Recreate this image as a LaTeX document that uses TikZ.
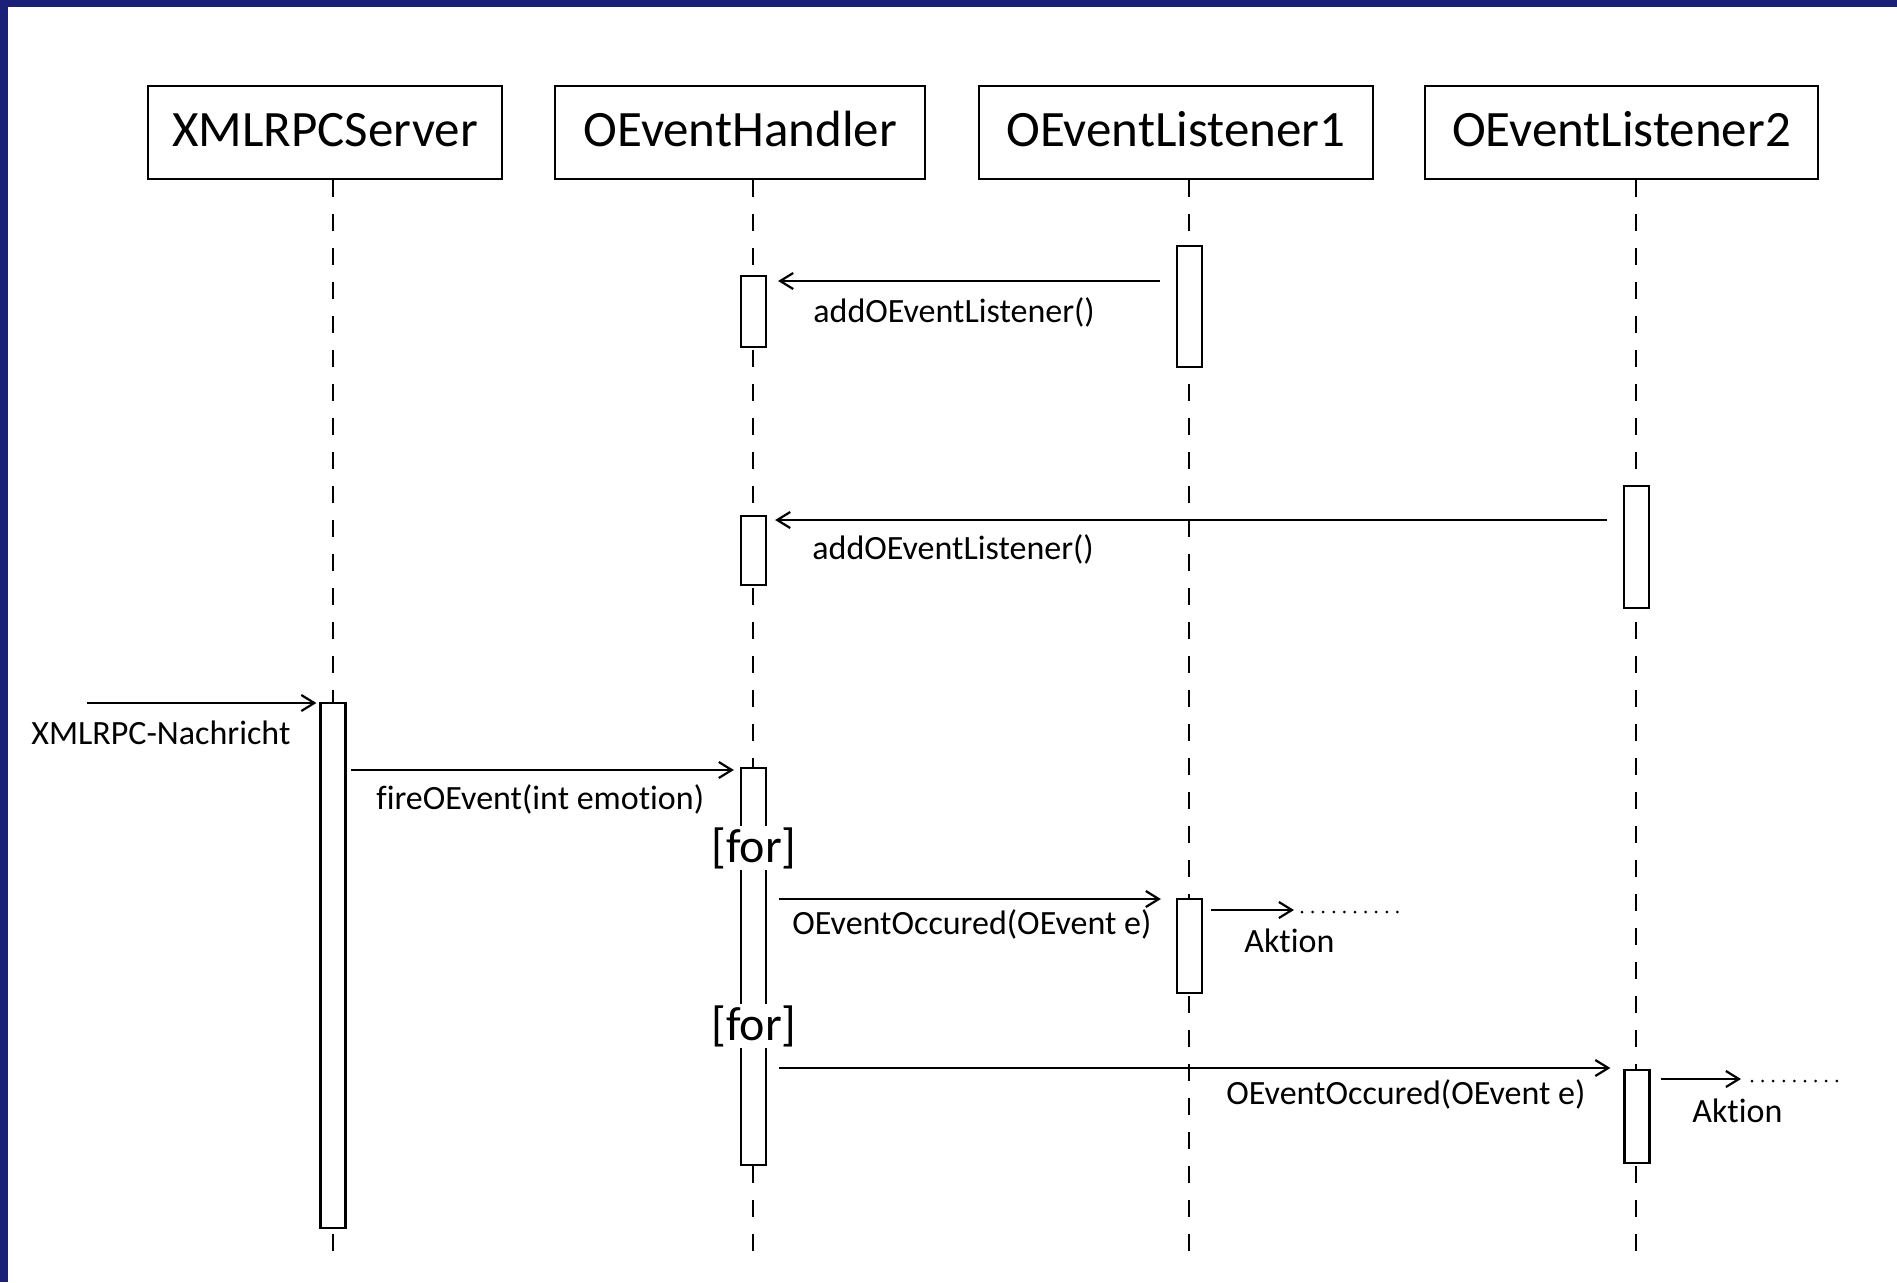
\documentclass[tikz,border=0pt]{standalone}
\usepackage{fontspec}
\setmainfont{Carlito}[Ligatures={NoCommon}]
\usetikzlibrary{arrows.meta}
\definecolor{framenavy}{RGB}{27,33,120}
\begin{document}
\begin{tikzpicture}[x=0.5pt,y=-0.5pt,
  head/.style={draw,line width=1pt,minimum height=46.5pt,inner sep=0pt,
    text height=17.3pt,text depth=3.5pt,
    font=\fontsize{25.5}{30}\selectfont},
  act/.style={draw,fill=white,line width=1.1pt,minimum width=12.5pt,inner sep=0pt},
  lifeline/.style={line width=1.1pt,dash pattern=on 8.5pt off 8.5pt},
  msg/.style={line width=1.1pt,-{Straight Barb[length=6.5pt,width=8pt,line width=1.1pt]}},
  lbl/.style={inner sep=0pt,font=\fontsize{17}{20}\selectfont},
  guard/.style={fill=white,inner sep=0.5pt,font=\fontsize{24}{28}\selectfont},
  dots/.style={line width=1.5pt,dash pattern=on 0pt off 5.3pt,line cap=round}]
\useasboundingbox (0,0) rectangle (1897,1282);
\fill[white] (0,0) rectangle (1897,1282);
\fill[framenavy] (0,0) rectangle (1897,7);
\fill[framenavy] (0,0) rectangle (8,1282);

% heads
\node[head,minimum width=177pt] (hA) at (325,132.5) {XMLRPCServer};
\node[head,minimum width=185pt] (hH) at (740.25,132.5) {OEventHandler};
\node[head,minimum width=197pt] (hL1) at (1176,132.5) {OEventListener1};
\node[head,minimum width=196.5pt] (hL2) at (1621.5,132.5) {OEventListener2};

% lifeline ends
\coordinate (eA) at (333,1251);
\coordinate (eH) at (753,1251);
\coordinate (eL1) at (1189,1251);
\coordinate (eL2) at (1636,1251);
\draw[lifeline] (hA.south -| eA) -- (eA);
\draw[lifeline] (hH.south -| eH) -- (eH);
\draw[lifeline] (hL1.south -| eL1) -- (eL1);
\draw[lifeline] (hL2.south -| eL2) -- (eL2);

% activations
\node[act,minimum height=262.5pt] (aA) at (333,965.5) {};
\node[act,minimum height=35.5pt] (aH1) at (753.5,311.5) {};
\node[act,minimum height=34.5pt] (aH2) at (753.5,550.5) {};
\node[act,minimum height=198.5pt] (aH3) at (753.5,966.5) {};
\node[act,minimum height=60.5pt] (aL1a) at (1189.5,306.5) {};
\node[act,minimum height=47pt] (aL1b) at (1189.5,946) {};
\node[act,minimum height=61pt] (aL2a) at (1636.5,547) {};
\node[act,minimum height=46.5pt] (aL2b) at (1637,1116.5) {};

% guards
\node[guard] (g1) at (754,848) {[for]};
\node[guard] (g2) at (754,1026) {[for]};

% messages
\draw[msg,shorten <=8pt,shorten >=5.5pt] (aL1a.west |- 0,281) -- (aH1.east |- 0,281);
\node[lbl,anchor=base west] (t1) at (813,322) {addOEventListener()};

\draw[msg,shorten <=8pt,shorten >=4pt] (aL2a.west |- 0,520) -- (aH2.east |- 0,520);
\node[lbl,anchor=base west] (t2) at (812,559) {addOEventListener()};

\coordinate (xin) at (87,703);
\draw[msg,shorten >=1.5pt] (xin) -- (aA.west |- xin);
\node[lbl,anchor=base west] (t3) at (31,744) {XMLRPC-Nachricht};

\draw[msg,shorten <=2pt,shorten >=3pt] (aA.east |- 0,770) -- (aH3.west |- 0,770);
\node[lbl,anchor=base west] (t4) at (376,809) {fireOEvent(int emotion)};

\draw[msg,shorten <=6pt,shorten >=7.5pt] (aH3.east |- 0,899) -- (aL1b.west |- 0,899);
\node[lbl,anchor=base west] (t5) at (792,934) {OEventOccured(OEvent e)};

\draw[msg,shorten <=6pt,shorten >=6.5pt] (aH3.east |- 0,1068) -- (aL2b.west |- 0,1068);
\node[lbl,anchor=base west] (t6) at (1226,1104) {OEventOccured(OEvent e)};

% actions
\coordinate (k1) at (1294,910);
\draw[msg,shorten <=4pt] (aL1b.east |- k1) -- (k1);
\coordinate (d1s) at (1302,912);
\coordinate (d1e) at (1398,912);
\draw[dots] (d1s) -- (d1e);
\node[lbl,anchor=base west] (t7) at (1244,952) {Aktion};

\coordinate (k2) at (1741,1079);
\draw[msg,shorten <=5pt] (aL2b.east |- k2) -- (k2);
\coordinate (d2s) at (1752,1081);
\coordinate (d2e) at (1846,1081);
\draw[dots] (d2s) -- (d2e);
\node[lbl,anchor=base west] (t8) at (1692,1122) {Aktion};
\end{tikzpicture}
\end{document}
